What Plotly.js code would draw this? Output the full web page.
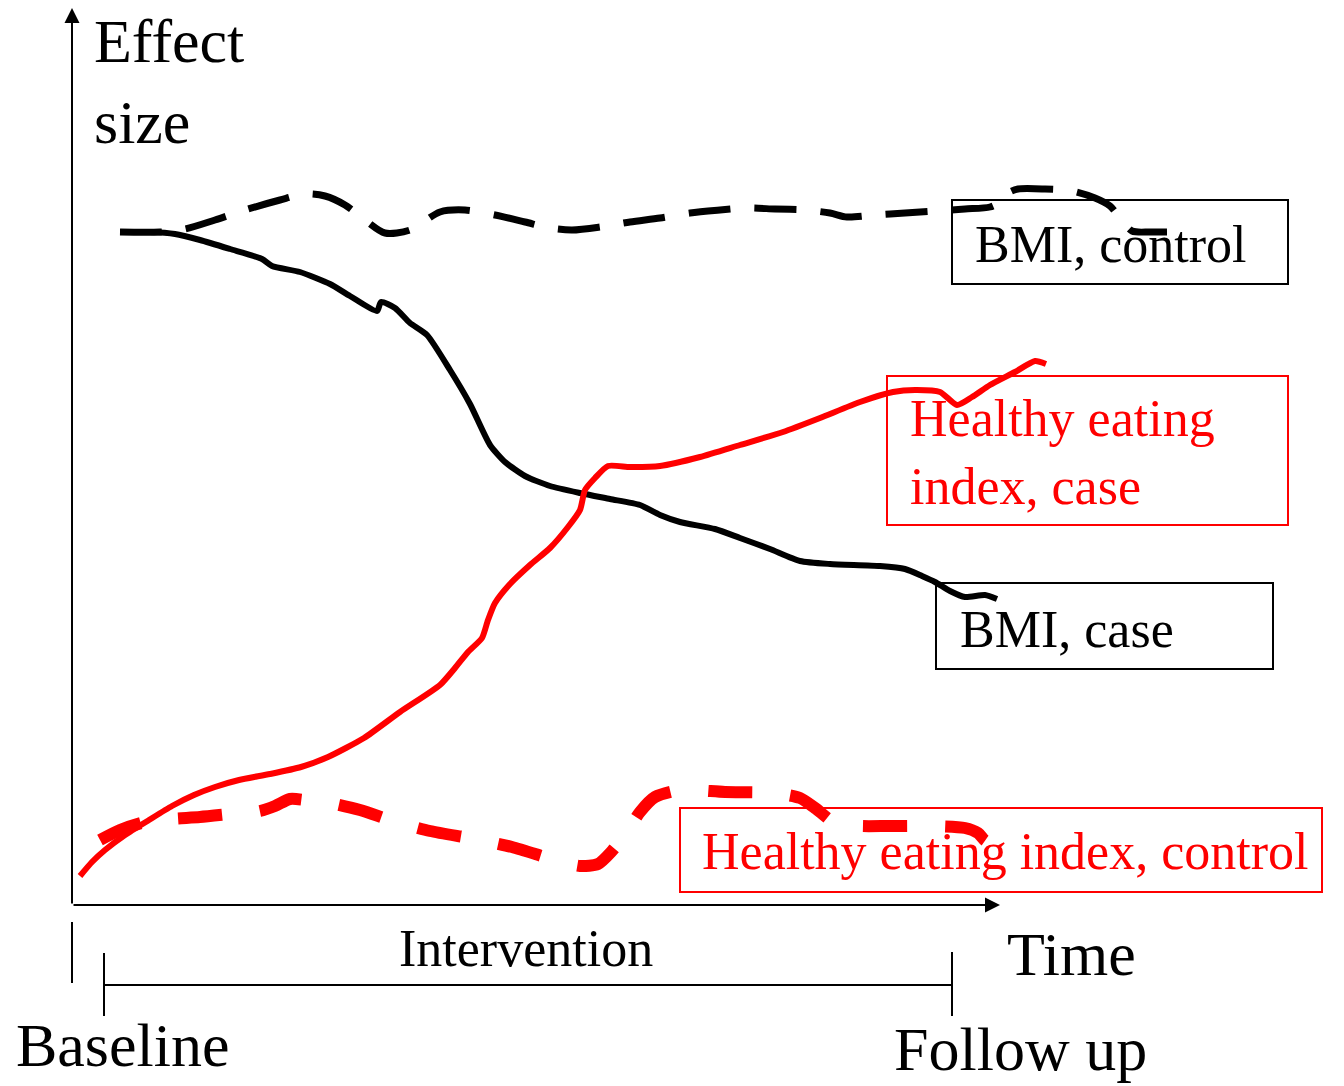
<!DOCTYPE html>
<html>
<head>
<meta charset="utf-8">
<script src="https://cdn.plot.ly/plotly-3.0.1.min.js"></script>
<style>html,body{margin:0;padding:0;background:#fff;}#chart{width:1344px;height:1086px;}</style>
</head>
<body>
<div id="chart"></div>
<script>
// Schematic values: time (x) and effect size (y), origin at the axes corner
var bmiControlTime   = [48,88,113,143,173,208,233,253,273,293,313,338,368,393,423,453,478,500,528,558,588,618,648,673,703,733,758,775,803,833,863,893,918,928,936,946,973,1000,1023,1038,1048,1060,1078,1095];
var bmiControlEffect = [673,673,676,685,695,705,711,709,700,685,672,675,693,695,690,683,677,675,678,683,687,692,695,697,696,695,692,688,690,692,694,696,698,703,712,716,716,714,707,699,687,674,673,673];

var bmiCaseTime   = [48,78,103,128,158,190,200,228,258,278,305,309,323,338,355,378,398,418,433,453,478,508,538,568,588,608,643,668,698,728,758,808,833,850,863,878,893,913,925];
var bmiCaseEffect = [673,673,671,665,656,646,639,633,621,609,594,603,597,582,570,535,501,460,443,429,419,412,406,400,390,383,376,367,356,344,341,339,336,329,323,314,308,310,306];

var heiCaseTime   = [8,20,33,53,77,100,122,143,167,198,229,256,292,328,368,383,396,410,416,423,438,458,478,496,508,513,523,536,558,588,628,668,711,748,788,821,843,868,885,900,918,943,963,974];
var heiCaseEffect = [29,43,55,70,85,99,110,118,125,131,138,148,167,193,220,237,253,267,285,302,321,340,357,378,395,415,427,439,438,439,448,460,473,487,503,513,515,513,500,508,520,533,544,541];

var heiControlTime   = [28,48,73,98,128,158,188,203,218,233,258,288,321,358,403,440,483,508,526,540,555,568,583,608,653,701,728,743,763,788,818,860,893,906,914,922,930];
var heiControlEffect = [65,75,83,86,88,91,94,99,106,105,102,95,84,74,66,58,45,39,41,54,73,93,108,115,113,112,107,97,82,79,79,79,77,72,64,71,77];

var seriesNames = ["BMI, control", "BMI, case", "Healthy eating index, case", "Healthy eating index, control"];
var axisLabels = {y: "Effect<br>size", x: "Time"};
var periodLabels = ["Baseline", "Intervention", "Follow up"];

var FONT = '"Liberation Serif", "Times New Roman", serif';
var RED = '#ff0000';

var traces = [
  {x: bmiControlTime, y: bmiControlEffect, name: seriesNames[0], mode: 'lines',
   line: {color: '#000', width: 7, dash: '42px,24px', shape: 'spline', smoothing: 0.8}},
  {x: bmiCaseTime, y: bmiCaseEffect, name: seriesNames[1], mode: 'lines',
   line: {color: '#000', width: 6, shape: 'spline', smoothing: 0.6}},
  {x: heiCaseTime, y: heiCaseEffect, name: seriesNames[2], mode: 'lines',
   line: {color: RED, width: 6, shape: 'spline', smoothing: 0.6}},
  {x: heiControlTime, y: heiControlEffect, name: seriesNames[3], mode: 'lines',
   line: {color: RED, width: 12, dash: '44px,38px', shape: 'spline', smoothing: 0.7}}
];

function lbl(text, x, y, size, color) {
  return {text: text, x: x, y: y, xref: 'x', yref: 'y', xanchor: 'left', yanchor: 'middle',
          showarrow: false, align: 'left', font: {family: FONT, size: size, color: color || '#000'}};
}

var shapes = [
  // label boxes
  {type: 'rect', x0: 880, x1: 1216, y0: 621, y1: 705, line: {color: '#000', width: 2}, layer: 'below'},
  {type: 'rect', x0: 815, x1: 1216, y0: 380, y1: 529, line: {color: RED, width: 2}, layer: 'below'},
  {type: 'rect', x0: 864, x1: 1201, y0: 236, y1: 322, line: {color: '#000', width: 2}, layer: 'below'},
  {type: 'rect', x0: 608, x1: 1250, y0: 13, y1: 97, line: {color: RED, width: 2}, layer: 'below'},
  // baseline tick
  {type: 'line', x0: 0, x1: 0, y0: -17, y1: -78, line: {color: '#000', width: 2}},
  // intervention bracket
  {type: 'line', x0: 32, x1: 880, y0: -80, y1: -80, line: {color: '#000', width: 2}},
  {type: 'line', x0: 32, x1: 32, y0: -48, y1: -111, line: {color: '#000', width: 2}},
  {type: 'line', x0: 880, x1: 880, y0: -47, y1: -111, line: {color: '#000', width: 2}}
];

var annotations = [
  // axes with arrowheads
  {x: 0, y: 897, ax: 0, ay: 0, xref: 'x', yref: 'y', axref: 'x', ayref: 'y', text: '',
   showarrow: true, arrowhead: 2, arrowsize: 1.5, arrowwidth: 2, arrowcolor: '#000', standoff: 0, startstandoff: 0},
  {x: 928, y: 0, ax: 0, ay: 0, xref: 'x', yref: 'y', axref: 'x', ayref: 'y', text: '',
   showarrow: true, arrowhead: 2, arrowsize: 1.5, arrowwidth: 2, arrowcolor: '#000', standoff: 0, startstandoff: 0},
  lbl(axisLabels.y, 20, 824, 62),
  lbl(axisLabels.x, 933, -49, 62),
  lbl(seriesNames[0], 901, 661, 52),
  lbl("Healthy eating<br>index, case", 836, 453, 52, RED),
  lbl(seriesNames[1], 886, 276, 52),
  lbl(seriesNames[3], 628, 54, 52, RED),
  lbl(periodLabels[1], 325, -43, 52),
  lbl(periodLabels[2], 820, -144, 62),
  lbl(periodLabels[0], -58, -140, 62)
];

var layout = {
  width: 1344, height: 1086,
  margin: {l: 0, r: 0, t: 0, b: 0, pad: 0},
  paper_bgcolor: '#fff', plot_bgcolor: '#fff',
  showlegend: false,
  xaxis: {range: [-72, 1272], visible: false, fixedrange: true},
  yaxis: {range: [-181, 905], visible: false, fixedrange: true},
  shapes: shapes,
  annotations: annotations
};

Plotly.newPlot('chart', traces, layout, {staticPlot: true, displayModeBar: false});
</script>
</body>
</html>
